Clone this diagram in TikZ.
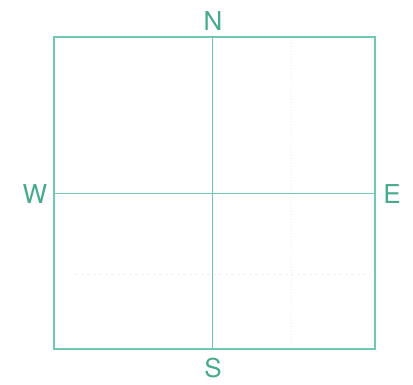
\documentclass[tikz,border=0pt]{standalone}
\usepackage{fontspec}
\setmainfont{TeX Gyre Heros}
\usepackage{xcolor}
\usetikzlibrary{positioning, calc}
\definecolor{compass}{RGB}{110,200,178}
\definecolor{compasstext}{RGB}{70,170,140}
\tikzset{
  frame/.style={draw=compass, line width=1.1pt},
  axis/.style={draw=compass, line width=1pt},
  faint/.style={draw=gray!12, line width=0.8pt, dashed},
  dirlabel/.style={font=\fontsize{26}{26}\selectfont, text=compasstext, inner sep=0pt},
}
\begin{document}
\begin{tikzpicture}[x=1pt, y=-1pt]
  \useasboundingbox (0,0) rectangle (413,385);

  % Square and its edge midpoints
  \draw[frame] (54,37) rectangle (375,349);
  \coordinate (top) at (212.5,37);
  \coordinate (bot) at (212.5,349);
  \coordinate (lft) at (54,193.5);
  \coordinate (rgt) at (375,193.5);

  % Faint scan marks
  \coordinate (fa) at (75,274);
  \coordinate (fb) at (370,274);
  \coordinate (fc) at (291,40);
  \coordinate (fd) at (291,345);
  \draw[faint] (fa) -- (fb);
  \draw[faint, dotted] (fc) -- (fd);

  % Cross lines
  \draw[axis] (top) -- (bot);
  \draw[axis] (lft) -- (rgt);

  % Direction labels
  \node[dirlabel] (north) at (213,21) {N};
  \node[dirlabel] (south) at (213,368) {S};
  \node[dirlabel] (west) at (35,194) {W};
  \node[dirlabel] (east) at (392,194) {E};
\end{tikzpicture}
\end{document}
